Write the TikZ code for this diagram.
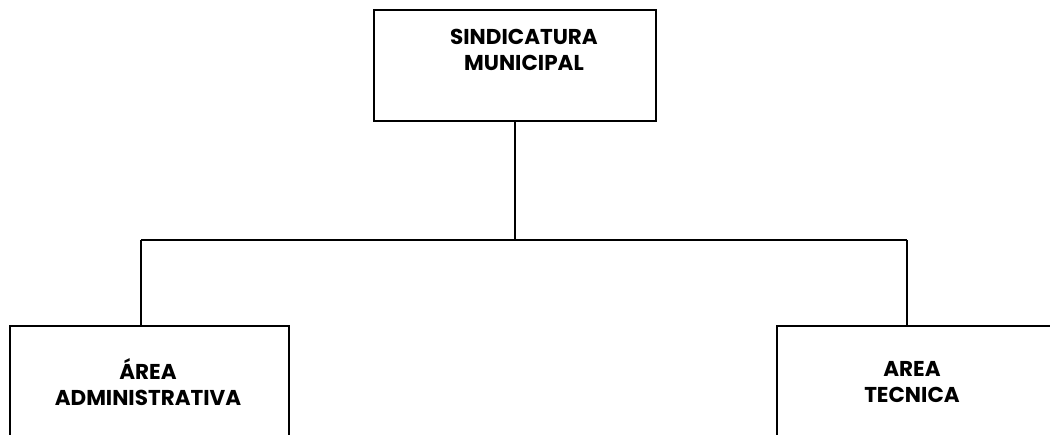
\documentclass[tikz,border=0pt]{standalone}
\usepackage{fontspec}
\setmainfont{Poppins}
\usetikzlibrary{positioning}

\begin{document}
\begin{tikzpicture}[x=1pt, y=-1pt, line width=1.6pt]
\tikzset{
    box/.style={draw=black, minimum width=282pt, minimum height=111pt},
    title/.style={align=center, font=\fontsize{21.5}{26}\selectfont\bfseries},
  }
\useasboundingbox (0,0) rectangle (1050,435);
\clip (0,0) rectangle (1050,435);
\node (sindicatura_box) [box, minimum width=282pt] at (515,65.5) {};
\node (sindicatura_text) [title] at (524,50) {SINDICATURA\\MUNICIPAL};
\node (admin_box) [box, minimum width=279pt, anchor=north] at (149.5,325) {};
\node (admin_text) [title] at (148,382) {ÁREA\\ADMINISTRATIVA};
\node (tecnica_box) [box, minimum width=279pt, anchor=north] at (916.5,325) {};
\node (tecnica_text) [title] at (912,382) {AREA\\TECNICA};
% connectors
\coordinate (bus_left) at (141,240);
\coordinate (bus_right) at (907,240);
\draw (sindicatura_box.south) -- (sindicatura_box.south |- bus_left);
\draw (bus_left) -- (bus_right);
\draw (bus_left) -- (bus_left |- admin_box.north);
\draw (bus_right) -- (bus_right |- tecnica_box.north);
\end{tikzpicture}
\end{document}
